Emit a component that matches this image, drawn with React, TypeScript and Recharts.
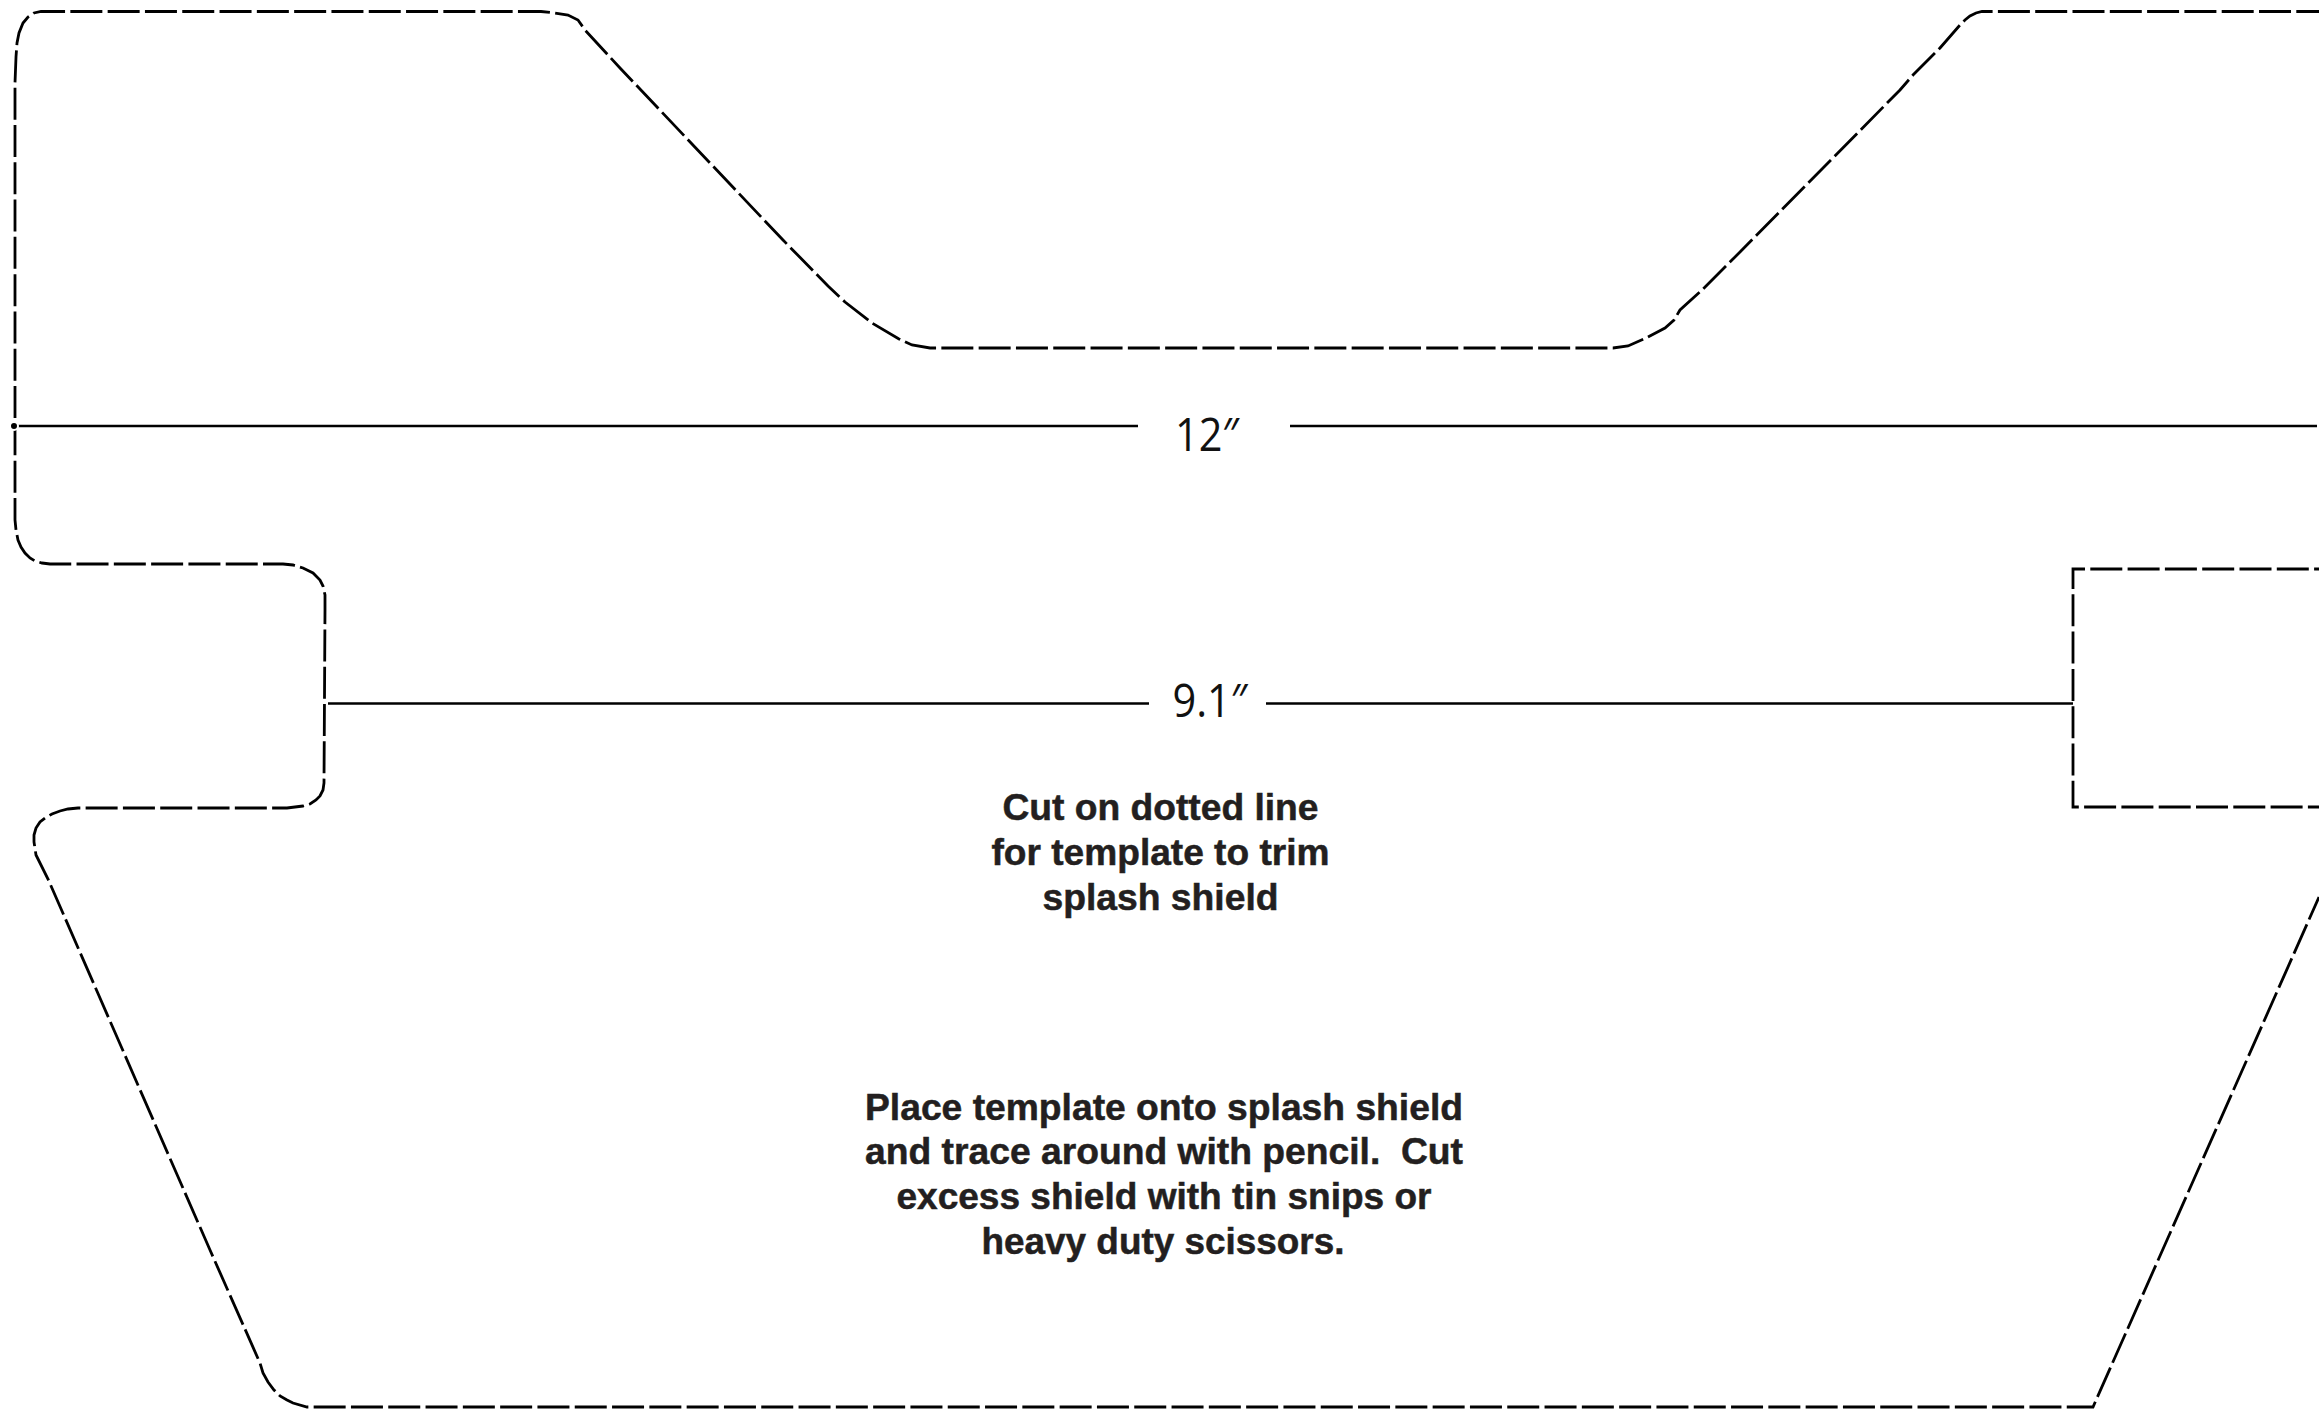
import { LineChart, Line, XAxis, YAxis, ReferenceDot } from 'recharts';

const WIDTH = 2319;
const HEIGHT = 1410;

// template outline (x, y in picture units)
const outlineX = [2319, 1982, 1976, 1970, 1965, 1960, 1940, 1913, 1900, 1740, 1702, 1680, 1674, 1665, 1646, 1628, 1613, 930, 912, 899, 872, 845, 828, 783, 620, 585, 578, 568, 555, 541, 41, 34, 28, 23, 19, 17, 16, 15, 15, 16, 18, 21, 25, 30, 35, 42, 50, 283, 293, 303, 313, 320, 323, 325, 325, 324, 323, 320, 316, 310, 303, 287, 78, 68, 60, 52, 45, 40, 36, 34, 34, 36, 48, 210, 260, 263, 268, 274, 280, 287, 293, 307, 2093, 2319];
const outlineY = [11.5, 11.5, 13, 16, 20, 25, 48, 75, 90, 252, 290, 310, 320, 328, 338, 346, 348, 348, 345, 339, 323, 302, 286, 240, 68, 30, 20, 15, 13, 11.5, 11.5, 13, 17, 23, 33, 43, 57, 83, 520, 530, 540, 547, 553, 558, 561, 563, 564, 564, 565, 568, 573, 580, 586, 595, 610, 783, 790, 796, 800, 804, 806, 808, 808, 809, 811, 814, 818, 822, 828, 835, 842, 855, 879, 1250, 1363, 1373, 1382, 1390, 1396, 1400, 1403, 1407, 1407, 897];

// right hand cut-out
const cutoutX = [2319, 2073, 2073, 2319];
const cutoutY = [569, 569, 807, 807];

// dimension lines
const dim12LeftX = [14, 1138];
const dim12RightX = [1290, 2317];
const dim12Y = [426, 426];
const dim91LeftX = [328, 1149];
const dim91RightX = [1266, 2073];
const dim91Y = [703.5, 703.5];

const dimLabels = ['12″', '9.1″'];
const dimLabelX = [1207, 1210];
const dimLabelY = [451, 717];
const dimLabelLength = [64, 75];

const noteLines = [
  'Cut on dotted line',
  'for template to trim',
  'splash shield',
  'Place template onto splash shield',
  'and trace around with pencil.  Cut',
  'excess shield with tin snips or',
  'heavy duty scissors.',
];
const noteX = [1160.5, 1160.5, 1160.5, 1164, 1164, 1164, 1163];
const noteY = [820, 865, 910, 1120, 1164, 1209, 1254];
const noteLength = [316, 338, 236, 598, 598, 535, 363];

const zip = (xs: number[], ys: number[]) => xs.map((x, i) => ({ x, y: ys[i] }));

const renderText = (text: string, length: number, font: any) => (props: any) => (
  <text
    x={props.viewBox.x}
    y={props.viewBox.y}
    textAnchor="middle"
    textLength={length}
    lengthAdjust="spacingAndGlyphs"
    style={{ whiteSpace: 'pre' }}
    {...font}
  >
    {text}
  </text>
);

const dimFont = { fontFamily: 'Open Sans', fontSize: 45, fill: '#111111' };
const noteFont = { fontFamily: 'Liberation Sans', fontSize: 36, fontWeight: 700, fill: '#231f20', stroke: '#231f20', strokeWidth: 0.5 };

export default function App() {
  const dashed = { stroke: '#000', strokeWidth: 2.8, strokeDasharray: '32 5.3', dot: false, isAnimationActive: false };
  const solid = { stroke: '#000', strokeWidth: 2.4, dot: false, isAnimationActive: false };
  return (
    <div style={{ position: 'absolute', left: 0, top: 0, width: WIDTH, height: HEIGHT, background: '#fff' }}>
      <LineChart width={WIDTH} height={HEIGHT} margin={{ top: 0, right: 0, bottom: 0, left: 0 }}>
        <XAxis type="number" dataKey="x" domain={[0, WIDTH]} hide />
        <YAxis type="number" domain={[0, HEIGHT]} reversed hide />
        <Line {...dashed} strokeDashoffset={9.3} data={zip(outlineX, outlineY)} dataKey="y" />
        <Line {...dashed} strokeDashoffset={27.1} data={zip(cutoutX, cutoutY)} dataKey="y" />
        <Line {...solid} data={zip(dim12LeftX, dim12Y)} dataKey="y" />
        <Line {...solid} data={zip(dim12RightX, dim12Y)} dataKey="y" />
        <Line {...solid} data={zip(dim91LeftX, dim91Y)} dataKey="y" />
        <Line {...solid} data={zip(dim91RightX, dim91Y)} dataKey="y" />
        {dimLabels.map((t, i) => (
          <ReferenceDot key={t} x={dimLabelX[i]} y={dimLabelY[i]} r={0} fill="none" stroke="none"
            label={{ content: renderText(t, dimLabelLength[i], dimFont) }} />
        ))}
        {noteLines.map((t, i) => (
          <ReferenceDot key={t} x={noteX[i]} y={noteY[i]} r={0} fill="none" stroke="none"
            label={{ content: renderText(t, noteLength[i], noteFont) }} />
        ))}
      </LineChart>
    </div>
  );
}
